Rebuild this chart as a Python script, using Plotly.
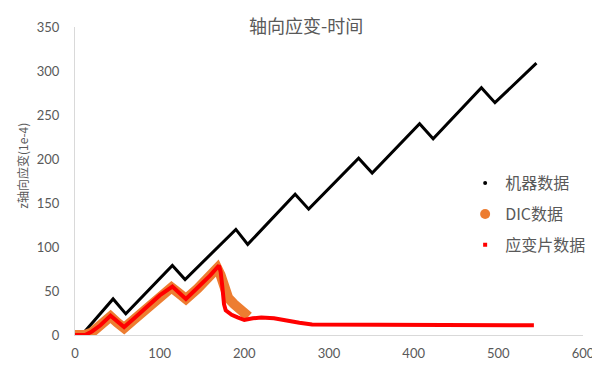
import plotly.graph_objects as go

# Machine data (time, strain 1e-4)
machine_t = [8, 45, 60, 115, 130, 190, 204, 260, 276, 335, 351, 407, 423, 480, 496, 545]
machine_v = [0, 41, 24, 79, 63, 120, 103, 160, 143, 201, 184, 240, 223, 281, 264, 309]

# DIC data
dic_t = [0, 5, 12, 20, 30, 42, 50, 58, 70, 85, 100, 114, 122, 131, 145, 160, 168, 172, 176, 181, 188, 195, 205]
dic_v = [0, 0, 0, 3, 10, 21, 14, 8, 18, 31, 44, 54, 48, 41, 53, 67, 76, 68, 55, 42, 35, 28, 21]

# Strain gauge data
gauge_t = [0, 5, 12, 20, 30, 42, 50, 58, 70, 85, 100, 115, 122, 131, 145, 160, 170, 172, 174, 176, 178, 185,
           192, 200, 210, 220, 235, 250, 265, 280, 300, 350, 400, 450, 500, 542]
gauge_v = [0, 0, 0, 4, 11, 22, 15, 9, 19, 32, 45, 55, 49, 41, 54, 68, 79, 72, 55, 35, 28, 23,
           20, 17, 19, 20, 19, 16, 14, 12, 12, 11, 12, 12, 11, 11]

names = ["机器数据", "DIC数据", "应变片数据"]
x_ticks = [0, 100, 200, 300, 400, 500, 600]
y_ticks = [0, 50, 100, 150, 200, 250, 300, 350]

BLACK = "#000000"
ORANGE = "#ED7D31"
RED = "#FF0000"
GRAY = "#595959"
CJK = "Noto Sans CJK SC"

fig = go.Figure()
fig.add_trace(go.Scatter(x=machine_t, y=machine_v, mode="lines",
                         line=dict(color=BLACK, width=3), showlegend=False))
fig.add_trace(go.Scatter(x=dic_t, y=dic_v, mode="lines",
                         line=dict(color=ORANGE, width=10), showlegend=False))
fig.add_trace(go.Scatter(x=gauge_t, y=gauge_v, mode="lines",
                         line=dict(color=RED, width=4), showlegend=False))

# legend entries (markers, as in the reference)
fig.add_trace(go.Scatter(x=[None], y=[None], mode="markers", name=names[0], legendgroup="a",
                         marker=dict(color=BLACK, size=4, symbol="circle")))
fig.add_trace(go.Scatter(x=[None], y=[None], mode="markers", name=names[1], legendgroup="b",
                         marker=dict(color=ORANGE, size=10, symbol="circle")))
fig.add_trace(go.Scatter(x=[None], y=[None], mode="markers", name=names[2], legendgroup="c",
                         marker=dict(color=RED, size=4, symbol="square")))

fig.update_layout(
    width=600, height=388,
    margin=dict(l=67, r=25, t=19, b=61),
    paper_bgcolor="white", plot_bgcolor="white",
    font=dict(family="Lato, " + CJK, color=GRAY, size=13),
    title=dict(text="轴向应变-时间", x=0.497, xanchor="center", y=0.951, yanchor="middle",
               font=dict(family=CJK, size=18, color=GRAY)),
    legend=dict(x=0.768, y=0.548, xanchor="left", yanchor="top",
                font=dict(family=CJK, size=16, color=GRAY),
                tracegroupgap=7, traceorder="grouped", bgcolor="rgba(0,0,0,0)"),
    showlegend=True,
)
fig.update_xaxes(range=[0, 600], tickvals=x_ticks, showgrid=False, zeroline=False,
                 showline=True, linecolor="#D9D9D9", linewidth=1, ticks="",
                 ticklabelstandoff=6, tickfont=dict(size=13, color=GRAY))
fig.update_yaxes(range=[0, 350], tickvals=y_ticks, showgrid=False, zeroline=False,
                 showline=True, linecolor="#D9D9D9", linewidth=1, ticks="",
                 ticklabelstandoff=12, tickfont=dict(size=13, color=GRAY))
fig.add_annotation(text="z轴向应变(1e-4)", xref="paper", yref="paper",
                   x=-0.104, y=0.55, textangle=-90, showarrow=False,
                   font=dict(family=CJK, size=12, color=GRAY), xanchor="center", yanchor="middle")

fig.write_html("out.html")
